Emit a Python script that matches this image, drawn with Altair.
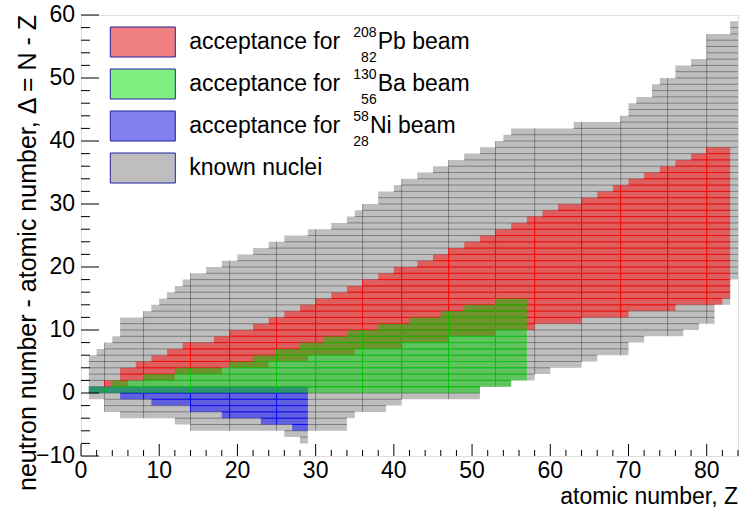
import altair as alt
import pandas as pd

# ---------------- data ----------------
Z_GREY = list(range(1, 84))
GREY_LO = [-1, -1, -3, -3, -4, -4, -4, -4, -4, -4, -4, -5, -5,
           -6, -6, -6, -6, -6, -6, -6, -6, -6, -6, -6, -6, -7, -7, -8,
           -6, -6, -6, -6, -6, -4, -3, -3, -3, -3, -2, -2,
           -1, -1, -1, -1, -1, -1, -1, -1, -1, -1,
           1, 1, 1, 1, 2, 2, 2, 3, 3, 4, 4, 4, 4, 5, 5, 6, 6, 6, 6,
           8, 8, 9, 9, 9, 9, 9, 10, 10, 11, 11, 14, 14, 18]
GREY_HI = [6, 7, 8, 9, 12, 12, 12, 13, 14, 15, 16, 17, 18,
           19, 19, 20, 20, 21, 21, 22, 22, 23, 23, 24, 24, 25, 25, 25,
           26, 26, 26, 27, 27, 28, 29, 30, 30, 32, 32, 33,
           34, 34, 35, 35, 36, 36, 37, 37, 38, 38,
           39, 39, 40, 41, 42, 42, 42, 42, 42, 42, 42, 42,
           43, 43, 43, 43, 43, 43, 44, 46, 47, 47, 49, 50, 50,
           52, 52, 53, 53, 57, 57, 57, 59]

Z_RED = list(range(3, 83))
RED_LO = [1, 1, 1, 2, 2, 2, 2, 2, 2, 3, 3, 3, 3, 3, 3,
          4, 4, 4, 4, 4, 4, 5, 5, 5, 5, 5, 6, 6, 6, 6, 6, 6,
          7, 7, 7, 7, 7, 7, 8, 8, 8, 8, 8, 8, 9, 9, 9, 9, 9, 9,
          10, 10, 10, 10, 10, 11, 11, 11, 11, 11, 11, 12, 12, 12, 12, 12, 12,
          13, 13, 13, 13, 13, 13, 14, 14, 14, 14, 14, 14, 15]
RED_HI = [2, 2, 4, 4, 5, 5, 6, 6, 7, 7, 8, 8, 8, 8, 9, 9,
          10, 10, 10, 11, 11, 12, 12, 13, 13, 14, 14, 15, 15, 16, 16,
          17, 17, 18, 18, 19, 19, 20, 20, 20, 21, 21, 22, 22, 23, 23,
          24, 24, 25, 25, 26, 26, 27, 27, 28, 28, 29, 29, 30, 30, 30,
          31, 31, 32, 32, 33, 33, 34, 34, 35, 35, 36, 36, 37, 37, 38, 38,
          39, 39, 39]

Z_GREEN = list(range(1, 57))
GREEN_LO = [0] * 50 + [1, 1, 1, 1, 2, 2]
GREEN_HI = [1, 1, 1, 2, 2, 2, 2, 3, 3, 3, 3, 4, 4, 4, 4, 4, 4, 4,
            5, 5, 5, 6, 6, 6, 7, 7, 7, 8, 8, 8, 9, 9, 9,
            10, 10, 10, 10, 11, 11, 11, 11, 12, 12, 12, 12,
            13, 13, 13, 14, 14, 14, 14, 15, 15, 15, 15]

Z_BLUE = list(range(1, 29))
BLUE_LO = [0, 0, 0, 0, -1, -1, -1, -1, -2, -2, -2, -2, -2,
           -3, -3, -3, -3, -4, -4, -4, -4, -4, -5, -5, -5, -5, -6, -6]
BLUE_HI = [1] * 28

V_LINES = [3, 8, 14, 19, 25, 30, 36, 41, 47, 53, 58, 64, 69, 75, 80]

X_LABELS = [0, 10, 20, 30, 40, 50, 60, 70, 80]
Y_LABELS = [-10, 0, 10, 20, 30, 40, 50, 60]

LEGEND_NAMES = ["acceptance for", "acceptance for", "acceptance for", "known nuclei"]
LEGEND_SUP = ["208", "130", "58", ""]
LEGEND_SUB = ["82", "56", "28", ""]
LEGEND_REST = ["Pb beam", "Ba beam", "Ni beam", ""]

# ---------------- layout ----------------
W, H = 657, 441
FONT = "Liberation Sans"
XS = alt.Scale(domain=[0, 84], nice=False, zero=False)
YS = alt.Scale(domain=[-10, 60], nice=False, zero=False)


def band(zs, lo, hi):
    # step outline: each value holds from Z to Z+1
    return pd.DataFrame({"z": zs + [zs[-1] + 1], "lo": lo + [lo[-1]], "hi": hi + [hi[-1]]})


def hsegs(zs, lo, hi):
    rows = []
    kmin, kmax = min(lo), max(hi)
    for k in range(kmin + 1, kmax):
        start = None
        for z, a, b in zip(zs, lo, hi):
            inside = a < k < b
            if inside and start is None:
                start = z
            if not inside and start is not None:
                rows.append({"z": start, "z2": z, "k": k})
                start = None
        if start is not None:
            rows.append({"z": start, "z2": zs[-1] + 1, "k": k})
    return pd.DataFrame(rows)


def vsegs(zs, lo, hi):
    rows = []
    for z, a, b in zip(zs, lo, hi):
        if z in V_LINES:
            rows.append({"z": z, "lo": a, "hi": b})
    return pd.DataFrame(rows)


def series_layers(zs, lo, hi, fill, fop, line, lop):
    r = alt.Chart(band(zs, lo, hi)).mark_area(
        color=fill, opacity=fop, interpolate="step-after", strokeWidth=0).encode(
        x=alt.X("z:Q", scale=XS, axis=None),
        y=alt.Y("lo:Q", scale=YS, axis=None), y2="hi:Q")
    h = alt.Chart(hsegs(zs, lo, hi)).mark_rule(color=line, opacity=lop, strokeWidth=1).encode(
        x=alt.X("z:Q", scale=XS, axis=None), x2="z2:Q", y=alt.Y("k:Q", scale=YS, axis=None))
    v = alt.Chart(vsegs(zs, lo, hi)).mark_rule(color=line, opacity=lop, strokeWidth=1).encode(
        x=alt.X("z:Q", scale=XS, axis=None), y=alt.Y("lo:Q", scale=YS, axis=None), y2="hi:Q")
    return [r, h, v]


layers = []
layers += series_layers(Z_GREY, GREY_LO, GREY_HI, "#bebebe", 1.0, "#000000", 0.33)
layers += series_layers(Z_RED, RED_LO, RED_HI, "#ff0000", 0.5, "#ff0000", 0.8)
layers += series_layers(Z_BLUE, BLUE_LO, BLUE_HI, "#0000ff", 0.5, "#0000ff", 0.8)
layers += series_layers(Z_GREEN, GREEN_LO, GREEN_HI, "#00c800", 0.5, "#00c800", 0.8)

# ticks (ROOT style, inside the frame)
xt = pd.DataFrame({"t": list(range(0, 85, 2))})
xt["major"] = xt["t"] % 10 == 0
yt = pd.DataFrame({"t": list(range(-10, 61, 2))})
yt["major"] = yt["t"] % 10 == 0
layers.append(alt.Chart(xt[xt.major]).mark_rule(color="black").encode(
    x=alt.X("t:Q", scale=XS, axis=None), y=alt.value(H), y2=alt.value(H - 12)))
layers.append(alt.Chart(xt[~xt.major]).mark_rule(color="black").encode(
    x=alt.X("t:Q", scale=XS, axis=None), y=alt.value(H), y2=alt.value(H - 6)))
layers.append(alt.Chart(yt[yt.major]).mark_rule(color="black").encode(
    y=alt.Y("t:Q", scale=YS, axis=None), x=alt.value(0), x2=alt.value(18)))
layers.append(alt.Chart(yt[~yt.major]).mark_rule(color="black").encode(
    y=alt.Y("t:Q", scale=YS, axis=None), x=alt.value(0), x2=alt.value(9)))

# tick labels
layers.append(alt.Chart(pd.DataFrame({"v": X_LABELS})).mark_text(
    font=FONT, fontSize=23, align="center", baseline="alphabetic", color="black").encode(
    x=alt.X("v:Q", scale=XS, axis=None), y=alt.value(H + 21.5), text=alt.Text("v:Q", format="d")))
layers.append(alt.Chart(pd.DataFrame({"v": Y_LABELS})).mark_text(
    font=FONT, fontSize=23, align="right", baseline="middle", color="black").encode(
    y=alt.Y("v:Q", scale=YS, axis=None), x=alt.value(-6), text=alt.Text("v:Q", format="d")))

# axis titles
layers.append(alt.Chart(pd.DataFrame({"t": ["atomic number, Z"]})).mark_text(
    font=FONT, fontSize=23, align="right", baseline="alphabetic", color="black").encode(
    text="t:N", x=alt.value(W), y=alt.value(488.5)))
layers.append(alt.Chart(pd.DataFrame({"t": ["neutron number - atomic number, \u0394 = N - Z"]})).mark_text(
    font=FONT, fontSize=25, align="right", baseline="alphabetic", angle=270, color="black").encode(
    text="t:N", x=alt.value(-45), y=alt.value(0)))

# legend
LEG_FILL = ["#f08080", "#80f080", "#8080f0", "#bebebe"]
for i in range(4):
    y0 = 12 + 42 * i
    layers.append(alt.Chart(pd.DataFrame({"a": [0]})).mark_rect(
        color=LEG_FILL[i], stroke="#2020a0", strokeWidth=1).encode(
        x=alt.value(29.3), x2=alt.value(94.3), y=alt.value(y0), y2=alt.value(y0 + 30)))
    layers.append(alt.Chart(pd.DataFrame({"t": [LEGEND_NAMES[i]]})).mark_text(
        font=FONT, fontSize=23, align="left", baseline="middle", color="black").encode(
        text="t:N", x=alt.value(108.3), y=alt.value(y0 + 15)))
    if LEGEND_SUP[i]:
        sup_w = len(LEGEND_SUP[i]) * 7.8
        xr = 272.3 + sup_w
        layers.append(alt.Chart(pd.DataFrame({"t": [LEGEND_SUP[i]]})).mark_text(
            font=FONT, fontSize=14, align="left", baseline="middle", color="black").encode(
            text="t:N", x=alt.value(272.3), y=alt.value(y0 + 6)))
        layers.append(alt.Chart(pd.DataFrame({"t": [LEGEND_SUB[i]]})).mark_text(
            font=FONT, fontSize=14, align="right", baseline="middle", color="black").encode(
            text="t:N", x=alt.value(xr), y=alt.value(y0 + 31)))
        layers.append(alt.Chart(pd.DataFrame({"t": [LEGEND_REST[i]]})).mark_text(
            font=FONT, fontSize=23, align="left", baseline="middle", color="black").encode(
            text="t:N", x=alt.value(xr + 1), y=alt.value(y0 + 15)))

chart = alt.layer(*layers).properties(
    width=W, height=H,
    autosize=alt.AutoSizeParams(type="none"),
    padding={"left": 81, "top": 15, "right": 1, "bottom": 52},
).configure_view(stroke="black", strokeWidth=1.2).configure(background="white")

chart.save("out.html", embed_options={"renderer": "svg", "actions": False})
